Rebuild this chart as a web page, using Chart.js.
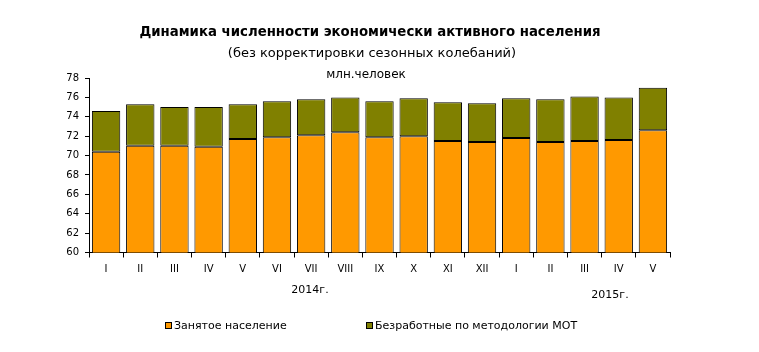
<!DOCTYPE html>
<html>
<head>
<meta charset="utf-8">
<script src="https://cdn.jsdelivr.net/npm/chart.js@4"></script>
<style>
  html, body { margin: 0; padding: 0; background: #fff; }
  #wrap { width: 759px; height: 352px; }
</style>
</head>
<body>
<div id="wrap"><canvas id="laborChart" width="759" height="352"></canvas></div>
<script>
const months = ['I', 'II', 'III', 'IV', 'V', 'VI', 'VII', 'VIII', 'IX', 'X', 'XI', 'XII',
                'I', 'II', 'III', 'IV', 'V'];
const employed = [70.4, 71.0, 71.0, 70.9, 71.7, 71.9, 72.1, 72.4, 71.9, 72.0, 71.5, 71.4,
                  71.8, 71.4, 71.5, 71.6, 72.6];
const unemployed = [4.2, 4.3, 4.0, 4.1, 3.6, 3.7, 3.7, 3.6, 3.7, 3.9, 4.0, 4.0,
                    4.1, 4.4, 4.6, 4.4, 4.4];
const seriesNames = ['Занятое население', 'Безработные по методологии МОТ'];
const yearLabels = ['2014г.', '2015г.'];

const FONT = '"DejaVu Sans", Verdana, sans-serif';

// titles, year captions and legend drawn at fixed spots
const textPlugin = {
    id: 'texts',
    afterDraw(chart) {
        const ctx = chart.ctx;
        ctx.save();
        ctx.fillStyle = '#000';
        ctx.textAlign = 'center';
        ctx.textBaseline = 'middle';
        ctx.font = 'bold 13.3px ' + FONT;
        ctx.fillText('Динамика численности экономически активного населения', 370, 33);
        ctx.font = '13px ' + FONT;
        ctx.fillText('(без корректировки сезонных колебаний)', 372, 54);
        ctx.font = '12px ' + FONT;
        ctx.fillText('млн.человек', 366, 75);

        ctx.font = '11px ' + FONT;
        ctx.fillText(yearLabels[0], 310, 290);
        ctx.fillText(yearLabels[1], 610, 295);

        // legend
        ctx.textAlign = 'left';
        ctx.font = '11px ' + FONT;
        const items = [[165, chart.data.datasets[0]], [366, chart.data.datasets[1]]];
        items.forEach(([x, ds]) => {
            ctx.fillStyle = ds.backgroundColor;
            ctx.fillRect(x, 322, 7, 7);
            ctx.strokeStyle = '#000';
            ctx.lineWidth = 1;
            ctx.strokeRect(x + 0.5, 322.5, 6, 6);
            ctx.fillStyle = '#000';
            ctx.fillText(ds.label, x + 9, 326);
        });
        ctx.restore();
    }
};

new Chart(document.getElementById('laborChart').getContext('2d'), {
    type: 'bar',
    data: {
        labels: months,
        datasets: [{
            label: seriesNames[0],
            data: employed,
            backgroundColor: '#FF9900',
            borderColor: '#000',
            borderWidth: 1,
            borderSkipped: false
        }, {
            label: seriesNames[1],
            data: unemployed,
            backgroundColor: '#808000',
            borderColor: '#000',
            borderWidth: 1,
            borderSkipped: false
        }]
    },
    options: {
        responsive: false,
        animation: false,
        datasets: {
            bar: { categoryPercentage: 1.0, barPercentage: 0.83 }
        },
        layout: { padding: { left: 0, right: 89, top: 78, bottom: 0 } },
        plugins: {
            legend: { display: false },
            title: { display: false },
            tooltip: { enabled: false }
        },
        scales: {
            x: {
                stacked: true,
                offset: true,
                grid: {
                    display: true,
                    offset: true,
                    drawOnChartArea: false,
                    drawTicks: true,
                    tickLength: 5,
                    color: '#000'
                },
                border: { display: true, color: '#000', width: 1 },
                ticks: {
                    color: '#000',
                    font: { family: FONT, size: 10 },
                    padding: 6,
                    maxRotation: 0,
                    autoSkip: false
                },
                afterFit(scale) { scale.height = 99.5; }
            },
            y: {
                stacked: true,
                min: 60,
                max: 78,
                grid: {
                    display: true,
                    drawOnChartArea: false,
                    drawTicks: true,
                    tickLength: 4,
                    color: '#000'
                },
                border: { display: true, color: '#000', width: 1 },
                ticks: {
                    stepSize: 2,
                    color: '#000',
                    font: { family: FONT, size: 10 },
                    padding: 6
                },
                afterFit(scale) { scale.width = 89; }
            }
        }
    },
    plugins: [textPlugin]
});
</script>
</body>
</html>
